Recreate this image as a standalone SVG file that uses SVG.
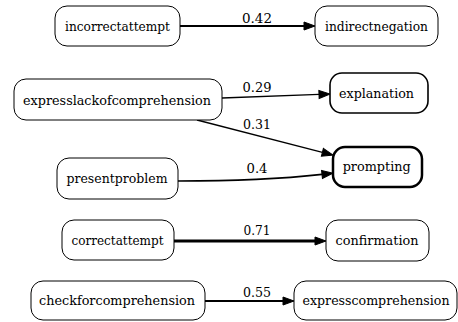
<svg xmlns="http://www.w3.org/2000/svg" width="458" height="322" viewBox="0 0 458 322">
<style>
.node rect{fill:#fff;stroke:#000;stroke-width:1}
.edge{fill:none;stroke:#000}
text{font-family:'DejaVu Serif Condensed','DejaVu Serif',serif;font-size:13px;fill:#000;text-anchor:middle}
</style>
<defs>
<marker id="ah" markerUnits="userSpaceOnUse" markerWidth="11" markerHeight="8" refX="0" refY="4" orient="auto" overflow="visible">
<path d="M0,0 L11,4 L0,8 z" fill="#000" stroke="#000" stroke-width="1"/>
</marker>
</defs>
<rect width="458" height="322" fill="#fff"/>
<g id="connectors">
<path class="edge" d="M180,26 L304,26" stroke-width="2" marker-end="url(#ah)"/>
<text x="257" y="23" textLength="30" lengthAdjust="spacingAndGlyphs">0.42</text>
<path class="edge" d="M222,98 L319,94.4" stroke-width="1.3" marker-end="url(#ah)"/>
<text x="257" y="92" textLength="29" lengthAdjust="spacingAndGlyphs">0.29</text>
<path class="edge" d="M197,120 L322.4,152.3" stroke-width="1.3" marker-end="url(#ah)"/>
<text x="257" y="129" textLength="28" lengthAdjust="spacingAndGlyphs">0.31</text>
<path class="edge" d="M178,181 C245,181 285,178.5 322,174.4" stroke-width="1.6" marker-end="url(#ah)"/>
<text x="257" y="173" textLength="21" lengthAdjust="spacingAndGlyphs">0.4</text>
<path class="edge" d="M174,241 L315,241" stroke-width="3" marker-end="url(#ah)"/>
<text x="257" y="235" textLength="27" lengthAdjust="spacingAndGlyphs">0.71</text>
<path class="edge" d="M205,301 L283,301" stroke-width="2" marker-end="url(#ah)"/>
<text x="257" y="297" textLength="28" lengthAdjust="spacingAndGlyphs">0.55</text>
</g>
<g id="incorrectattempt" class="node"><rect x="55" y="6" width="125" height="40" rx="12"/><text x="117.5" y="30.5" textLength="105" lengthAdjust="spacingAndGlyphs">incorrectattempt</text></g>
<g id="indirectnegation" class="node"><rect x="315" y="6" width="123" height="40" rx="12"/><text x="376.5" y="30.5" textLength="103" lengthAdjust="spacingAndGlyphs">indirectnegation</text></g>
<g id="expresslackofcomprehension" class="node"><rect x="14" y="79" width="208" height="41" rx="12"/><text x="117" y="104.5" textLength="188" lengthAdjust="spacingAndGlyphs">expresslackofcomprehension</text></g>
<g id="explanation" class="node"><rect x="330" y="73" width="98" height="40" rx="12" style="stroke-width:1.6"/><text x="376.5" y="97.5" textLength="75" lengthAdjust="spacingAndGlyphs">explanation</text></g>
<g id="presentproblem" class="node"><rect x="57" y="158" width="121" height="41" rx="12"/><text x="117" y="183" textLength="101" lengthAdjust="spacingAndGlyphs">presentproblem</text></g>
<g id="prompting" class="node"><rect x="333" y="147" width="89" height="40" rx="12" style="stroke-width:2.5"/><text x="376.7" y="171" textLength="68" lengthAdjust="spacingAndGlyphs">prompting</text></g>
<g id="correctattempt" class="node"><rect x="62" y="220" width="112" height="40" rx="12"/><text x="117.5" y="244.5" textLength="92" lengthAdjust="spacingAndGlyphs">correctattempt</text></g>
<g id="confirmation" class="node"><rect x="326" y="220" width="103" height="41" rx="12"/><text x="377" y="245" textLength="83" lengthAdjust="spacingAndGlyphs">confirmation</text></g>
<g id="checkforcomprehension" class="node"><rect x="31" y="281" width="174" height="39" rx="12"/><text x="117" y="305" textLength="156" lengthAdjust="spacingAndGlyphs">checkforcomprehension</text></g>
<g id="expresscomprehension" class="node"><rect x="294" y="281" width="163" height="39" rx="12"/><text x="376" y="305" textLength="147" lengthAdjust="spacingAndGlyphs">expresscomprehension</text></g>
</svg>
